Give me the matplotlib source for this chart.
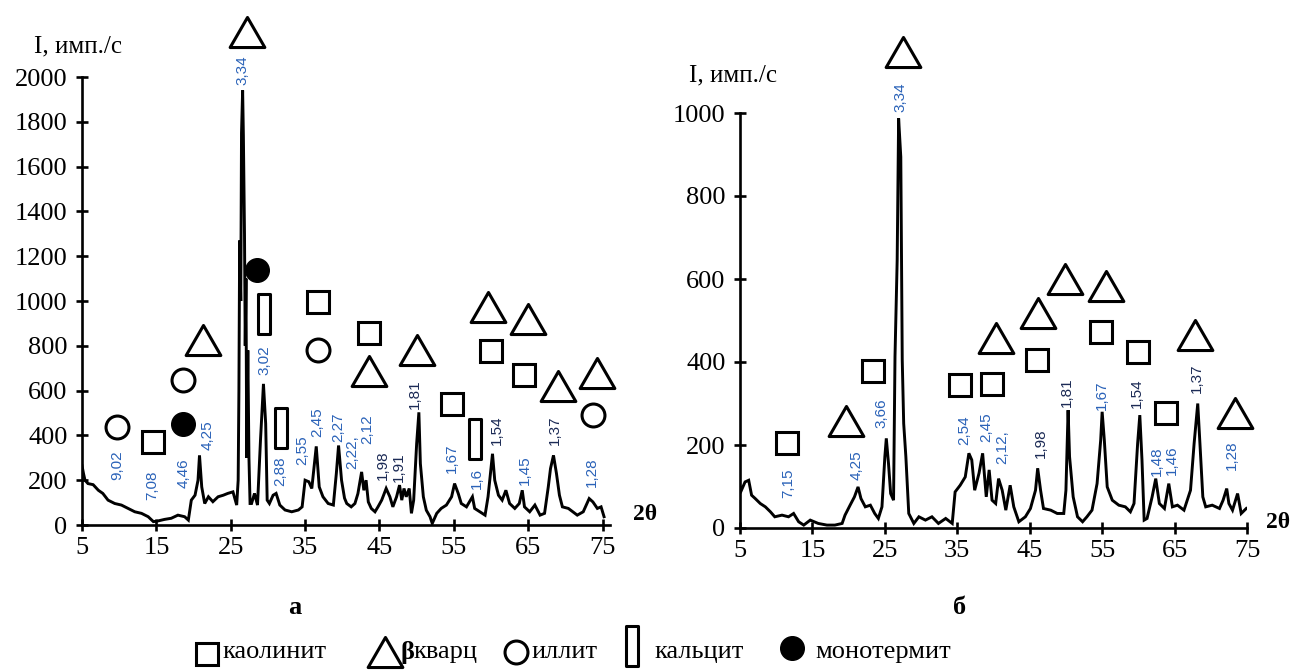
import matplotlib
matplotlib.use("Agg")
import matplotlib.pyplot as plt
from matplotlib.path import Path

# ---------------- data ----------------
left_2theta = [5.0, 5.2, 5.4, 5.8, 6.5, 7.2, 7.8, 8.5, 9.4, 10.3, 11.2, 12.1, 13.0, 13.9, 14.6,
               15.2, 16.1, 17.0, 17.9, 18.8, 19.3, 19.7, 20.2, 20.6, 20.8, 21.1, 21.5, 22.0, 22.6,
               23.3, 24.0, 24.6, 25.3, 25.8, 26.0, 26.1, 26.2, 26.35, 26.45, 26.6, 26.7, 26.85,
               26.95, 27.05, 27.15, 27.3, 27.45, 27.6, 27.8, 28.2, 28.6, 29.0, 29.4, 29.7, 29.9,
               30.2, 30.7, 31.1, 31.6, 32.3, 33.2, 34.1, 34.6, 35.0, 35.5, 35.9, 36.5, 36.9, 37.4,
               38.1, 38.8, 39.2, 39.5, 39.9, 40.3, 40.6, 41.2, 41.7, 42.1, 42.6, 42.9, 43.2, 43.5,
               43.9, 44.4, 44.8, 45.3, 45.9, 46.4, 46.8, 47.3, 47.7, 48.0, 48.3, 48.6, 49.0, 49.3,
               49.6, 50.0, 50.3, 50.5, 50.9, 51.3, 51.8, 52.1, 52.7, 53.3, 54.0, 54.7, 55.1, 55.6,
               56.0, 56.7, 57.5, 57.8, 58.5, 59.2, 59.6, 60.2, 60.5, 61.0, 61.5, 62.0, 62.5, 63.2,
               63.8, 64.2, 64.5, 65.2, 65.9, 66.6, 67.2, 67.7, 68.0, 68.4, 68.8, 69.2, 69.6, 70.4,
               71.0, 71.6, 72.4, 73.2, 73.7, 74.3, 74.8, 75.2]
left_intensity = [265, 230, 200, 185, 180, 155, 141, 111, 96, 89, 74, 59, 52, 37, 15,
                  18, 25, 30, 44, 37, 22, 111, 133, 200, 311, 170, 96, 126, 104,
                  126, 133, 141, 148, 89, 200, 600, 1270, 1000, 1750, 1940, 1740, 1300,
                  800, 1100, 300, 780, 300, 96, 96, 141, 89, 378, 630, 452, 111,
                  96, 133, 141, 89, 67, 59, 67, 81, 200, 193, 163, 351, 170, 126,
                  96, 89, 230, 355, 200, 120, 96, 81, 96, 140, 237, 155, 200, 103,
                  74, 59, 81, 111, 163, 126, 81, 126, 178, 111, 163, 126, 163, 52,
                  111, 363, 503, 274, 126, 66, 37, 7, 52, 74, 89, 126, 185, 140,
                  96, 81, 126, 74, 59, 44, 126, 318, 200, 133, 111, 155, 96, 74,
                  96, 155, 81, 59, 89, 44, 52, 170, 252, 311, 230, 133, 81, 74,
                  59, 44, 59, 118, 103, 74, 81, 37]

right_2theta = [5.0, 5.2, 5.7, 6.2, 6.6, 7.1, 7.8, 8.5, 9.2, 9.8, 10.8, 11.7, 12.4, 13.1, 13.8,
                14.7, 15.8, 17.0, 18.1, 19.1, 19.5, 20.2, 20.8, 21.3, 21.7, 22.3, 23.0, 23.6,
                24.1, 24.6, 25.0, 25.2, 25.5, 25.8, 26.2, 26.4, 26.7, 26.9, 27.2, 27.4, 27.6,
                27.9, 28.3, 29.0, 29.7, 30.6, 31.5, 32.4, 33.4, 34.3, 34.7, 35.4, 36.1, 36.6,
                37.0, 37.4, 38.0, 38.5, 39.0, 39.4, 39.8, 40.3, 40.7, 41.2, 41.7, 42.3, 42.8,
                43.5, 44.4, 45.1, 45.8, 46.1, 46.5, 46.9, 47.9, 48.8, 49.7, 50.0, 50.3, 50.5,
                51.0, 51.6, 52.3, 52.9, 53.6, 54.3, 54.8, 55.0, 55.3, 55.7, 56.4, 57.3, 58.2,
                58.9, 59.4, 59.9, 60.2, 60.5, 60.8, 61.2, 61.9, 62.4, 62.9, 63.6, 64.2, 64.7,
                65.4, 66.3, 67.2, 67.7, 68.2, 68.5, 68.9, 69.3, 70.2, 71.2, 71.7, 72.2, 72.5,
                73.0, 73.7, 74.2, 74.9]
right_intensity = [100, 91, 111, 115, 79, 71, 59, 51, 39, 27, 31, 27, 35, 15, 7,
                   19, 11, 7, 7, 11, 31, 55, 75, 99, 71, 51, 55, 35,
                   23, 51, 172, 216, 156, 83, 67, 413, 645, 987, 894, 405, 252,
                   172, 35, 11, 27, 19, 27, 11, 23, 11, 87, 103, 123, 180,
                   164, 91, 132, 180, 75, 140, 67, 59, 119, 91, 43, 103, 51,
                   15, 27, 47, 91, 144, 91, 47, 43, 35, 35, 91, 284, 172,
                   75, 27, 15, 27, 43, 107, 212, 280, 212, 99, 67, 55, 51,
                   39, 59, 204, 272, 164, 19, 23, 75, 119, 59, 47, 107, 51,
                   55, 43, 91, 204, 300, 204, 75, 51, 55, 47, 67, 95, 59,
                   43, 83, 35, 47]

# phase markers (2theta, level)
left_kaolinite = [(14.5, 369), (36.7, 996), (43.6, 858), (54.7, 542), (60.0, 778), (64.5, 671)]
left_quartz = [(27.2, 2200), (21.3, 827), (43.6, 689), (50.0, 782), (59.6, 973), (65.0, 920),
               (69.0, 622), (74.2, 680)]
left_illite = [(9.7, 436), (18.6, 649), (36.7, 782), (73.7, 489)]
left_calcite = [(29.5, 942), (31.7, 431), (57.8, 382)]
left_montmor = [(28.5, 1138), (18.6, 453)]

right_kaolinite = [(11.55, 206), (23.4, 379), (35.4, 344), (39.8, 346), (46.0, 406),
                   (54.9, 473), (60.0, 425), (63.8, 278)]
right_quartz = [(27.5, 1146), (19.66, 257), (40.4, 459), (46.2, 519), (49.9, 601),
                (55.6, 584), (67.8, 466), (73.3, 278)]

# d-spacing labels (text, 2theta, level)
left_dlabels = [("3,34", 26.6, 2031), ("9,02", 9.7, 267), ("7,08", 14.4, 178), ("4,46", 18.7, 231),
                ("4,25", 21.9, 400), ("3,02", 29.6, 738), ("2,88", 31.6, 240), ("2,55", 34.6, 333),
                ("2,45", 36.7, 458), ("2,27", 39.4, 435), ("2,22,", 41.4, 324), ("2,12", 43.3, 426),
                ("1,98", 45.5, 267), ("1,91", 47.6, 258), ("1,81", 49.8, 582), ("1,67", 54.7, 298),
                ("1,6", 58.1, 209), ("1,54", 60.8, 422), ("1,45", 64.5, 244), ("1,37", 68.6, 422),
                ("1,28", 73.5, 236)]
right_dlabels = [("3,34", 27.1, 1039), ("7,15", 11.7, 107), ("4,25", 21.1, 152), ("3,66", 24.5, 276),
                 ("2,54", 36.0, 236), ("2,45", 39.0, 244), ("2,12,", 41.2, 196), ("1,98", 46.5, 204),
                 ("1,81", 50.1, 328), ("1,67", 55.0, 320), ("1,54", 59.8, 324), ("1,48", 62.5, 160),
                 ("1,46", 64.6, 164), ("1,37", 68.1, 360), ("1,28", 72.9, 176)]
dark_labels = {"1,81", "1,54", "1,37", "1,98", "1,91"}

left_yticks = [0, 200, 400, 600, 800, 1000, 1200, 1400, 1600, 1800, 2000]
right_yticks = [0, 200, 400, 600, 800, 1000]
xticks = [5, 15, 25, 35, 45, 55, 65, 75]

legend_names = ["каолинит", "кварц", "иллит", "кальцит", "монотермит"]

# ---------------- style ----------------
W, H = 1294, 672
SERIF = ["Liberation Serif", "DejaVu Serif"]
plt.rcParams['font.family'] = SERIF

tri = Path([(-1, -0.866), (1, -0.866), (0, 0.866), (-1, -0.866)], closed=True)
rect = Path([(-0.3, -1), (0.3, -1), (0.3, 1), (-0.3, 1), (-0.3, -1)], closed=True)

mk = {
    "kaol": dict(marker="s", ms=16, mfc="none", mec="k", mew=2.2),
    "quartz": dict(marker=tri, ms=25, mfc="none", mec="k", mew=2.2),
    "ill": dict(marker="o", ms=16.5, mfc="none", mec="k", mew=2.2),
    "calc": dict(marker=rect, ms=29, mfc="none", mec="k", mew=2.2),
    "mont": dict(marker="o", ms=17, mfc="k", mec="k", mew=1),
}

fig = plt.figure(figsize=(W / 100, H / 100), dpi=100)


def frac_box(x0, x1, ytop, ybot):
    return [x0 / W, 1 - ybot / H, (x1 - x0) / W, (ybot - ytop) / H]


def style_axes(ax, yticks):
    for s in ("top", "right"):
        ax.spines[s].set_visible(False)
    for s in ("left", "bottom"):
        ax.spines[s].set_linewidth(1.9)
    ax.set_xticks(xticks)
    ax.set_yticks(yticks)
    ax.tick_params(direction="inout", length=9, width=1.9, labelsize=19, pad=4)
    ax.tick_params(axis="y", pad=6)
    for lab in ax.get_xticklabels() + ax.get_yticklabels():
        lab.set_fontfamily(SERIF)


def place(ax, pts, key):
    xs = [p[0] for p in pts]
    ys = [p[1] for p in pts]
    ax.plot(xs, ys, ls="none", clip_on=False, zorder=5, **mk[key])


def dlabels(ax, labels):
    for t, x, y in labels:
        col = "#1b2a55" if t in dark_labels else "#2a62b8"
        ax.text(x, y, t, rotation=90, ha="center", va="center", fontsize=11,
                family=["Liberation Sans", "DejaVu Sans"], color=col, clip_on=False, zorder=6)


# left panel
axL = fig.add_axes(frac_box(82, 610, 77, 525))
axL.plot(left_2theta, left_intensity, color="k", lw=2.1, solid_joinstyle="miter")
axL.set_xlim(5, 76)
axL.set_ylim(0, 2000)
style_axes(axL, left_yticks)
place(axL, left_kaolinite, "kaol")
place(axL, left_quartz, "quartz")
place(axL, left_illite, "ill")
place(axL, left_calcite, "calc")
place(axL, left_montmor, "mont")
dlabels(axL, left_dlabels)

# right panel
axR = fig.add_axes(frac_box(740, 1247, 113, 528))
axR.plot(right_2theta, right_intensity, color="k", lw=2.1, solid_joinstyle="miter")
axR.set_xlim(5, 75)
axR.set_ylim(0, 1000)
style_axes(axR, right_yticks)
place(axR, right_kaolinite, "kaol")
place(axR, right_quartz, "quartz")
dlabels(axR, right_dlabels)

# overlay in pixel coordinates for free text and legend
ov = fig.add_axes([0, 0, 1, 1], facecolor="none")
ov.set_xlim(0, W)
ov.set_ylim(H, 0)
ov.axis("off")

ov.text(78, 46, "I, имп./с", fontsize=18, ha="center", va="center")
ov.text(733, 75, "I, имп./с", fontsize=18, ha="center", va="center")
ov.text(645, 514, "2θ", fontsize=17, fontweight="bold", ha="center", va="center")
ov.text(1278, 522, "2θ", fontsize=17, fontweight="bold", ha="center", va="center")
ov.text(295, 607, "а", fontsize=19, fontweight="bold", ha="center", va="center")
ov.text(960, 607, "б", fontsize=19, fontweight="bold", ha="center", va="center")

ly = 652
ov.plot([207], [ly + 2], **mk["kaol"])
ov.text(222, ly, legend_names[0], fontsize=19, ha="left", va="center")
ov.plot([385], [ly], **mk["quartz"])
ov.text(401, ly, "β", fontsize=19, fontweight="bold", ha="left", va="center")
ov.text(413, ly, legend_names[1], fontsize=19, ha="left", va="center")
ov.plot([516], [ly], **mk["ill"])
ov.text(531, ly, legend_names[2], fontsize=19, ha="left", va="center")
ov.plot([632], [ly - 6], **mk["calc"])
ov.text(654, ly, legend_names[3], fontsize=19, ha="left", va="center")
ov.plot([792], [ly - 4], **mk["mont"])
ov.text(815, ly, legend_names[4], fontsize=19, ha="left", va="center")

fig.savefig("out.png", dpi=100)
